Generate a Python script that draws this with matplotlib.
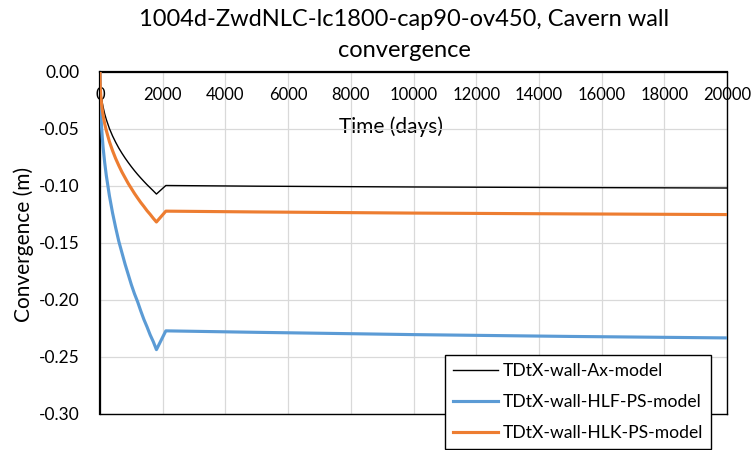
import matplotlib
matplotlib.use("Agg")
import matplotlib.pyplot as plt
from matplotlib.ticker import FormatStrFormatter, MultipleLocator

plt.rcParams['font.family'] = ['Lato', 'DejaVu Sans']
plt.rcParams['axes.unicode_minus'] = False

# ---- data ----
time_days = [0, 10, 25, 50, 75, 100, 150, 200, 300, 400, 500, 600, 700, 800, 900,
             1000, 1100, 1200, 1300, 1400, 1500, 1600, 1700, 1800,
             2100, 5000, 10000, 15000, 20000]
ax_model = [0.0, -0.0117, -0.0174, -0.0233, -0.0277, -0.0313, -0.0372, -0.042,
            -0.050, -0.0565, -0.0621, -0.0672, -0.0717, -0.0759, -0.0798,
            -0.0835, -0.087, -0.0903, -0.0934, -0.0964, -0.0993, -0.102, -0.1047, -0.1075,
            -0.1000, -0.1006, -0.1013, -0.1018, -0.1022]
hlf_ps_model = [0.0, -0.0238, -0.0358, -0.049, -0.0586, -0.067, -0.080, -0.091,
                -0.109, -0.124, -0.137, -0.149, -0.159, -0.169, -0.178,
                -0.187, -0.195, -0.202, -0.210, -0.2175, -0.224, -0.231, -0.237, -0.244,
                -0.2275, -0.2288, -0.2308, -0.2324, -0.2337]
hlk_ps_model = [0.0, -0.0144, -0.0214, -0.0286, -0.0341, -0.0385, -0.0458, -0.0516,
                -0.0615, -0.0694, -0.0764, -0.0825, -0.0882, -0.0932, -0.0982,
                -0.1026, -0.107, -0.111, -0.1149, -0.1184, -0.1221, -0.1253, -0.1288, -0.132,
                -0.1225, -0.1232, -0.1242, -0.1249, -0.1255]
series_names = ["TDtX-wall-Ax-model", "TDtX-wall-HLF-PS-model", "TDtX-wall-HLK-PS-model"]
title_text = "1004d-ZwdNLC-lc1800-cap90-ov450, Cavern wall\nconvergence"
x_label = "Time (days)"
y_label = "Convergence (m)"

fig = plt.figure(figsize=(7.55, 4.5), dpi=100)
ax = fig.add_axes([100/755, 36.5/450, 627/755, 342/450])

ax.plot(time_days, ax_model, color='black', lw=1.0, label=series_names[0], zorder=3)
ax.plot(time_days, hlf_ps_model, color='#5B9BD5', lw=2.25, label=series_names[1], zorder=3)
ax.plot(time_days, hlk_ps_model, color='#ED7D31', lw=2.25, label=series_names[2], zorder=3)

ax.set_xlim(0, 20000)
ax.set_ylim(-0.30, 0.0)
ax.xaxis.set_major_locator(MultipleLocator(2000))
ax.yaxis.set_major_locator(MultipleLocator(0.05))
ax.yaxis.set_major_formatter(FormatStrFormatter('%.2f'))
ax.grid(True, color='#D9D9D9', lw=0.9, zorder=0)
ax.set_axisbelow(True)

# x axis at the top (y=0) with labels drawn just below it
ax.tick_params(axis='x', top=True, bottom=False, labeltop=True, labelbottom=False,
               length=0, pad=-23, labelsize=12, colors='black')
ax.tick_params(axis='y', length=0, pad=15, labelsize=12.5)

for side in ['top', 'left']:
    ax.spines[side].set_linewidth(1.6)
for side in ['right', 'bottom']:
    ax.spines[side].set_linewidth(1.0)

ax.set_xlabel(x_label, fontsize=15)
ax.xaxis.set_label_position('top')
ax.xaxis.set_label_coords((391-100)/627, (413.5-127)/342)
ax.xaxis.label.set_va('center')

ax.set_ylabel(y_label, fontsize=15)
ax.yaxis.set_label_coords(-(100-24)/627, (413.5-244)/342)
ax.yaxis.label.set_va('center')

fig.text(404/755, 1 - 35/450, title_text, ha='center', va='center', fontsize=17,
         linespacing=1.62)

leg = ax.legend(loc='upper left', bbox_to_anchor=((445-100)/627, (413.5-355)/342),
                borderaxespad=0, frameon=True, fancybox=False, fontsize=12.6,
                handlelength=2.55, handletextpad=0.3, labelspacing=0.85,
                borderpad=0.46)
leg.get_frame().set_edgecolor('black')
leg.get_frame().set_linewidth(1.0)
leg.get_frame().set_alpha(1)

fig.savefig('out.png', dpi=100)
